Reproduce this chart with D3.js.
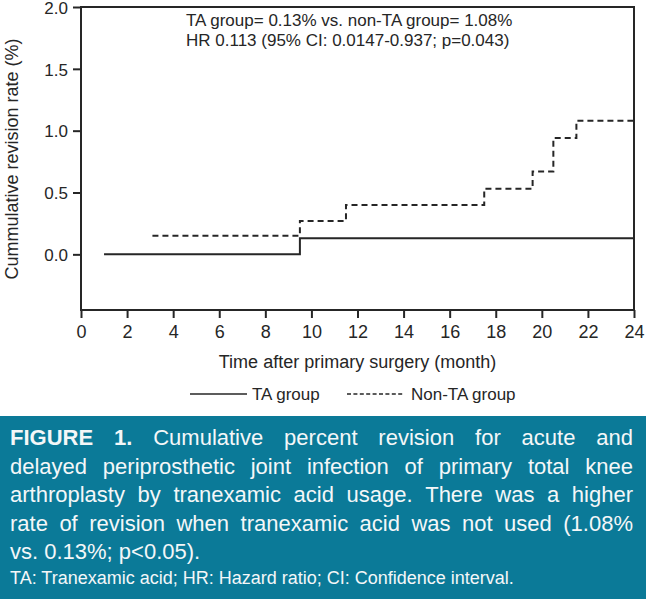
<!DOCTYPE html>
<html>
<head>
<meta charset="utf-8">
<script src="https://cdn.jsdelivr.net/npm/d3@7"></script>
<style>
  html, body { margin: 0; padding: 0; background: #fff; }
  svg { display: block; font-family: "Liberation Sans", Arial, Helvetica, sans-serif; }
</style>
</head>
<body>
<svg id="chart" width="646" height="599"></svg>
<script>
// ---- data ----
const taTimes = [1, 9.5, 24];
const taRates = [0, 0.13, 0.13];
const nonTaTimes = [3.1, 9.5, 11.5, 17.5, 19.6, 20.5, 21.5, 24];
const nonTaRates = [0.15, 0.27, 0.40, 0.53, 0.67, 0.94, 1.08, 1.08];
const xTicks = [0, 2, 4, 6, 8, 10, 12, 14, 16, 18, 20, 22, 24];
const yTicks = [0.0, 0.5, 1.0, 1.5, 2.0];
const seriesNames = ["TA group", "Non-TA group"];
const annotationLines = [
  "TA group= 0.13% vs. non-TA group= 1.08%",
  "HR 0.113 (95% CI: 0.0147-0.937; p=0.043)"
];
const xTitle = "Time after primary surgery (month)";
const yTitle = "Cummulative revision rate (%)";
const captionLines = [
  "FIGURE 1. Cumulative percent revision for acute and",
  "delayed periprosthetic joint infection of primary total knee",
  "arthroplasty by tranexamic acid usage. There was a higher",
  "rate of revision when tranexamic acid was not used (1.08%",
  "vs. 0.13%; p<0.05)."
];
const footnote = "TA: Tranexamic acid; HR: Hazard ratio; CI: Confidence interval.";

(function () {
// ---- layout ----
const svg = d3.select("#chart");
const pLeft = 81, pRight = 634, pTop = 7, pBottom = 310;
const ink = "#262626";

const x = d3.scaleLinear().domain([0, 24]).range([pLeft, pRight]);
const y = d3.scaleLinear().domain([-0.45, 2.0]).range([pBottom, pTop]);

// frame
svg.append("rect")
  .attr("x", pLeft).attr("y", pTop)
  .attr("width", pRight - pLeft).attr("height", pBottom - pTop)
  .attr("fill", "none").attr("stroke", ink).attr("stroke-width", 2);

// x axis
const gx = svg.append("g").attr("transform", `translate(0,${pBottom})`)
  .call(d3.axisBottom(x).tickValues(xTicks).tickSize(8).tickPadding(7).tickFormat(d3.format("d")));
gx.select(".domain").remove();
gx.selectAll(".tick line").attr("stroke", ink).attr("stroke-width", 2);
gx.selectAll(".tick text").attr("fill", ink).style("font-size", "18px")
  .style("font-family", '"Liberation Sans", Arial, sans-serif');

// y axis
const gy = svg.append("g").attr("transform", `translate(${pLeft},0)`)
  .call(d3.axisLeft(y).tickValues(yTicks).tickSize(8).tickPadding(5).tickFormat(d3.format(".1f")));
gy.select(".domain").remove();
gy.selectAll(".tick line").attr("stroke", ink).attr("stroke-width", 2);
gy.selectAll(".tick text").attr("fill", ink).attr("dy", "0.37em").style("font-size", "17px")
  .style("font-family", '"Liberation Sans", Arial, sans-serif');

// axis titles
svg.append("text")
  .attr("x", (pLeft + pRight) / 2).attr("y", 368)
  .attr("text-anchor", "middle").attr("fill", ink).style("font-size", "18px")
  .text(xTitle);
svg.append("text")
  .attr("transform", "translate(18,159) rotate(-90)")
  .attr("text-anchor", "middle").attr("fill", ink).style("font-size", "18px")
  .text(yTitle);

// lines
const line = d3.line().curve(d3.curveStepAfter).x(d => x(d[0])).y(d => y(d[1]));
const taData = taTimes.map((t, i) => [t, taRates[i]]);
const nonTaData = nonTaTimes.map((t, i) => [t, nonTaRates[i]]);

svg.append("path").datum(taData).attr("d", line)
  .attr("fill", "none").attr("stroke", ink).attr("stroke-width", 2);
svg.append("path").datum(nonTaData).attr("d", line)
  .attr("fill", "none").attr("stroke", ink).attr("stroke-width", 2)
  .attr("stroke-dasharray", "6,4");

// annotation
annotationLines.forEach((t, i) => {
  svg.append("text").attr("x", 186).attr("y", 26 + i * 20)
    .attr("fill", ink).style("font-size", "17px").text(t);
});

// legend
const legY = 394, legText = 400;
svg.append("line").attr("x1", 190).attr("x2", 247).attr("y1", legY).attr("y2", legY)
  .attr("stroke", ink).attr("stroke-width", 1.5);
svg.append("text").attr("x", 252).attr("y", legText).attr("fill", ink)
  .style("font-size", "17px").text(seriesNames[0]);
svg.append("line").attr("x1", 347).attr("x2", 404).attr("y1", legY).attr("y2", legY)
  .attr("stroke", ink).attr("stroke-width", 1.3).attr("stroke-dasharray", "4,2.4");
svg.append("text").attr("x", 411).attr("y", legText).attr("fill", ink)
  .style("font-size", "17px").text(seriesNames[1]);

// caption box
svg.append("rect").attr("x", 0).attr("y", 416).attr("width", 646).attr("height", 183)
  .attr("fill", "#0b7a98");

const capLeft = 10, capRight = 633, capSize = 22;
captionLines.forEach((ln, li) => {
  const baseline = 445 + li * 28.5;
  const words = ln.split(" ");
  const justify = li < captionLines.length - 1;
  const nodes = words.map((w, wi) => svg.append("text")
    .attr("y", baseline).attr("fill", "#f4f7f8")
    .style("font-size", capSize + "px")
    .style("font-weight", (li === 0 && wi < 2) ? "bold" : "normal")
    .text(w));
  const widths = nodes.map(n => n.node().getComputedTextLength());
  const total = d3.sum(widths);
  const spaceW = capSize * 0.278;
  const gap = justify ? (capRight - capLeft - total) / (words.length - 1) : spaceW;
  let cx = capLeft;
  nodes.forEach((n, i) => { n.attr("x", cx); cx += widths[i] + gap; });
});

svg.append("text").attr("x", 10).attr("y", 584).attr("fill", "#f4f7f8")
  .style("font-size", "18px").text(footnote);
})();
</script>
</body>
</html>
